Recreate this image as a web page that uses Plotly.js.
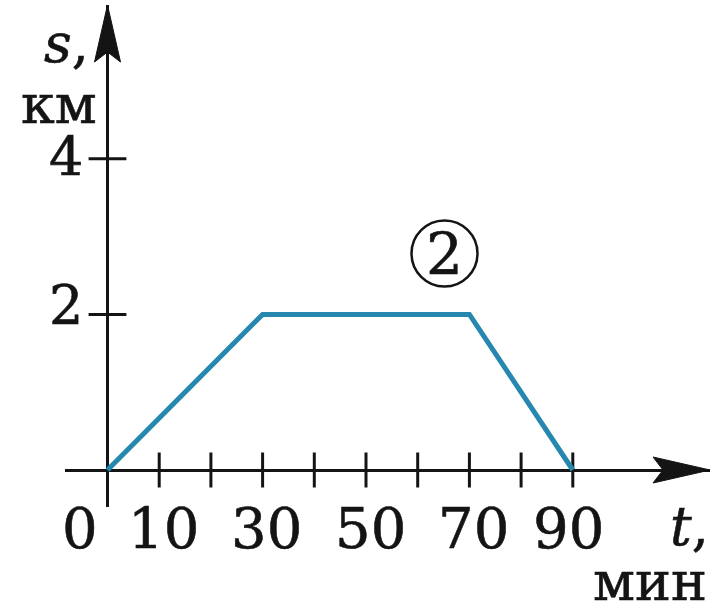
<!DOCTYPE html>
<html>
<head>
<meta charset="utf-8">
<script src="https://cdn.plot.ly/plotly-3.0.1.min.js"></script>
<style>
html,body{margin:0;padding:0;background:#fff;}
/* slightly heavier type, like a printed schoolbook face */
#chart .annotation-text{stroke:#141414;stroke-width:0.6px;}
</style>
</head>
<body>
<div id="chart" style="width:712px;height:612px;"></div>
<script>
// Route 2: distance s (km) against time t (min)
const timeMin = [0, 30, 70, 90];
const distKm = [0, 2, 2, 0];

// axis marks and their labels
const xTickVals = [10, 20, 30, 40, 50, 60, 70, 80, 90];
const xLabelVals = [0, 10, 30, 50, 70, 90];
const yTickVals = [2, 4];
const yLabelVals = [2, 4];
const routeLabel = '2';

// page geometry (pixels)
const W = 712, H = 612;
const plotL = 65, plotR = 710, plotT = 5, plotB = 507;
const x0px = 107.5, pxPerMin = 5.17;
const y0px = 470, pxPerKm = 77.8;

// pixel -> data and pixel -> paper helpers for placing text
const dx = px => (px - x0px) / pxPerMin;
const dy = py => (y0px - py) / pxPerKm;
const fx = px => (px - plotL) / (plotR - plotL);
const fy = py => (plotB - py) / (plotB - plotT);

const ink = '#141414';
const serif = '"DejaVu Serif", "Liberation Serif", serif';

const traces = [
  {
    type: 'scatter', mode: 'markers', hoverinfo: 'skip',
    x: xTickVals, y: xTickVals.map(() => 0),
    marker: {symbol: 'line-ns', size: 25, line: {width: 3, color: ink}}
  },
  {
    type: 'scatter', mode: 'markers', hoverinfo: 'skip',
    x: yTickVals.map(() => 0), y: yTickVals,
    marker: {symbol: 'line-ew', size: 27, line: {width: 3, color: ink}}
  },
  {
    type: 'scatter', mode: 'lines', hoverinfo: 'skip',
    x: timeMin, y: distKm,
    line: {color: '#2688af', width: 5}
  }
];

const annotations = [];
xLabelVals.forEach(v => {
  annotations.push({
    x: v, y: 0, xref: 'x', yref: 'y', text: String(v), showarrow: false,
    xanchor: 'center', yanchor: 'middle',
    xshift: v === 0 ? -28 : (v === 90 ? -4 : 4), yshift: -58,
    font: {family: serif, size: 56, color: ink}
  });
});
yLabelVals.forEach(v => {
  annotations.push({
    x: 0, y: v, xref: 'x', yref: 'y', text: String(v), showarrow: false,
    xanchor: 'center', yanchor: 'middle',
    xshift: -42, yshift: v === 2 ? 9 : 1,
    font: {family: serif, size: 54, color: ink}
  });
});
// axis names and units (boxes trimmed to the glyphs' own height)
const unitFont = {family: serif, size: 54, color: ink};
const paperText = (px, py, text, font, h) => ({
  x: fx(px), y: fy(py), xref: 'paper', yref: 'paper', text: text, showarrow: false,
  xanchor: 'center', yanchor: 'middle', valign: 'middle', font: font, height: h
});
annotations.push(
  paperText(66, 43, '<i>s</i>,', unitFont, 62),
  paperText(59, 104, 'км', unitFont, 42),
  paperText(689, 526, '<i>t</i>,', unitFont, 60),
  paperText(650, 581, 'мин', unitFont, 42),
  paperText(444.5, 254, routeLabel, {family: serif, size: 58, color: ink}, null)
);

const xMax = dx(plotR), xMin = dx(plotL);
const yMax = dy(plotT), yMin = dy(plotB);

const shapes = [
  // arrowhead of the time axis
  {type: 'path', xref: 'x', yref: 'y', xsizemode: 'pixel', ysizemode: 'pixel',
   xanchor: xMax, yanchor: 0,
   path: 'M0,0 L-57,13 L-47,0 L-57,-13 Z',
   fillcolor: ink, line: {color: ink, width: 1}},
  // arrowhead of the distance axis
  {type: 'path', xref: 'x', yref: 'y', xsizemode: 'pixel', ysizemode: 'pixel',
   xanchor: 0, yanchor: yMax,
   path: 'M0,0 L-13,-57 L0,-47 L13,-57 Z',
   fillcolor: ink, line: {color: ink, width: 1}},
  // ring around the route number
  {type: 'circle', xref: 'x', yref: 'y', xsizemode: 'pixel', ysizemode: 'pixel',
   xanchor: dx(444.5), yanchor: dy(253.5), x0: -33, x1: 33, y0: -33, y1: 33,
   line: {color: ink, width: 2.5}}
];

const axisCommon = {
  showgrid: false, showticklabels: false, ticks: '', showline: false,
  zeroline: true, zerolinecolor: ink, zerolinewidth: 3, fixedrange: true
};

const layout = {
  width: W, height: H,
  margin: {l: plotL, r: W - plotR, t: plotT, b: H - plotB, pad: 0},
  paper_bgcolor: '#ffffff', plot_bgcolor: '#ffffff',
  showlegend: false,
  xaxis: Object.assign({range: [xMin, xMax]}, axisCommon),
  yaxis: Object.assign({range: [yMin, yMax]}, axisCommon),
  annotations: annotations,
  shapes: shapes
};

Plotly.newPlot('chart', traces, layout, {displayModeBar: false, staticPlot: true});
</script>
</body>
</html>
